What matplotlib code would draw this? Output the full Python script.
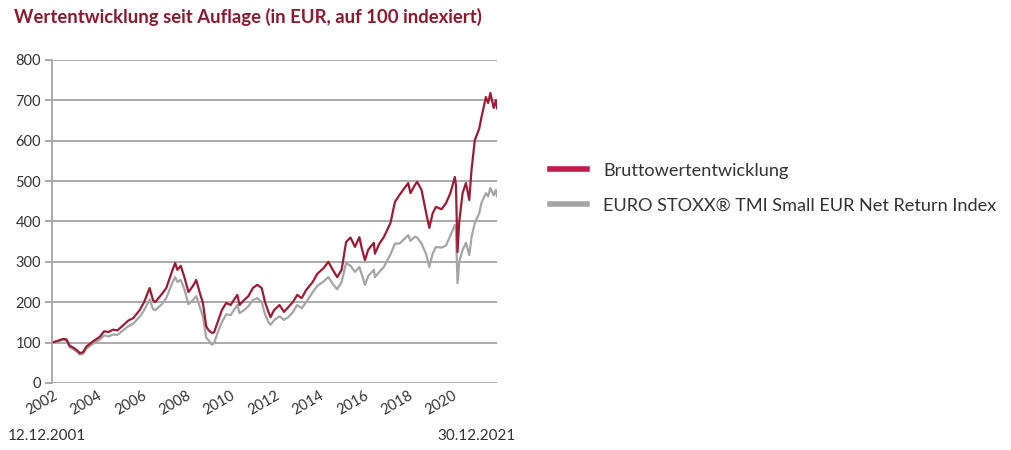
import numpy as np
import matplotlib.pyplot as plt
from matplotlib.lines import Line2D

# values (year as decimal, indexed to 100)
years = [2001.95, 2002.2, 2002.45, 2002.6, 2002.75, 2002.9, 2003.1, 2003.2, 2003.35, 2003.5,
         2003.8, 2004.1, 2004.3, 2004.5, 2004.7, 2004.9, 2005.2, 2005.4, 2005.6, 2005.9,
         2006.1, 2006.35, 2006.5, 2006.6, 2006.9, 2007.1, 2007.35, 2007.5, 2007.6, 2007.75,
         2007.9, 2008.1, 2008.3, 2008.45, 2008.6, 2008.75, 2008.9, 2009.0, 2009.15, 2009.25,
         2009.45, 2009.6, 2009.8, 2010.0, 2010.2, 2010.3, 2010.4, 2010.6, 2010.8, 2011.0,
         2011.2, 2011.4, 2011.55, 2011.7, 2011.8, 2011.95, 2012.2, 2012.4, 2012.6, 2012.8,
         2013.0, 2013.2, 2013.4, 2013.7, 2013.9, 2014.2, 2014.4, 2014.6, 2014.8, 2015.0,
         2015.2, 2015.4, 2015.6, 2015.8, 2015.9, 2016.05, 2016.2, 2016.45, 2016.5, 2016.7,
         2016.9, 2017.2, 2017.4, 2017.6, 2017.8, 2018.0, 2018.1, 2018.3, 2018.4, 2018.6,
         2018.8, 2018.95, 2019.1, 2019.25, 2019.5, 2019.7, 2019.9, 2020.1, 2020.15, 2020.22,
         2020.3, 2020.45, 2020.6, 2020.75, 2020.85, 2021.0, 2021.2, 2021.3, 2021.5, 2021.6,
         2021.7, 2021.85, 2021.95, 2022.0]

fund = [100, 104, 109, 108, 92, 88, 80, 74, 76, 90,
        103, 114, 128, 126, 132, 130, 145, 155, 160, 180,
        200, 235, 205, 200, 220, 235, 275, 297, 280, 290,
        265, 225, 240, 255, 225, 198, 140, 131, 124, 125,
        156, 180, 198, 193, 210, 218, 193, 205, 215, 235,
        243, 235, 200, 176, 163, 180, 193, 176, 188, 200,
        218, 210, 230, 250, 270, 285, 300, 280, 262, 280,
        349, 360, 337, 361, 335, 304, 330, 347, 320, 345,
        361, 396, 448, 465, 480, 495, 470, 490, 498, 478,
        423, 384, 420, 436, 430, 445, 470, 510, 490, 324,
        400, 470, 495, 453, 527, 601, 630, 658, 708, 693,
        718, 681, 700, 680]

index = [100, 103, 107, 104, 88, 84, 76, 70, 72, 85,
         97, 107, 118, 115, 120, 119, 132, 141, 146, 164,
         180, 207, 183, 180, 195, 210, 245, 262, 250, 255,
         235, 195, 205, 215, 190, 165, 112, 106, 95, 98,
         130, 150, 170, 168, 185, 193, 173, 180, 190, 205,
         210, 200, 170, 151, 144, 155, 165, 156, 163, 175,
         193, 185, 200, 225, 240, 252, 262, 245, 232, 250,
         297, 290, 275, 287, 270, 243, 265, 280, 262, 275,
         287, 318, 345, 345, 355, 366, 352, 362, 360, 345,
         320, 287, 320, 337, 335, 340, 365, 391, 380, 247,
         300, 329, 347, 317, 360, 396, 420, 446, 470, 462,
         483, 465, 478, 462]

labels = ["Bruttowertentwicklung", "EURO STOXX\u00ae TMI Small EUR Net Return Index"]
tick_years = list(range(2002, 2021, 2))

red = "#9e1b34"
grey = "#a5a5a5"
text_col = "#333333"

plt.rcParams['font.family'] = ['Lato', 'DejaVu Sans']

fig = plt.figure(figsize=(10.11, 4.5), dpi=100)
ax = fig.add_axes([0.0514, 0.149, 0.4402, 0.718])

ax.plot(years, index, color=grey, lw=1.6)
ax.plot(years, fund, color=red, lw=1.6)

ax.set_xlim(2001.95, 2022.0)
ax.set_ylim(0, 800)
ax.set_yticks(range(0, 801, 100))
ax.set_xticks(tick_years)
ax.set_xticklabels([str(y) for y in tick_years], rotation=30, ha='right',
                   rotation_mode='anchor', fontsize=10.5, color=text_col)
ax.tick_params(axis='x', length=0, pad=4)
ax.tick_params(axis='y', length=5, color=grey, width=1.3, labelsize=10.5,
               labelcolor=text_col, pad=3)
ax.yaxis.grid(True, color=grey, lw=1.3)
ax.set_axisbelow(True)
for s in ['top', 'right', 'bottom']:
    ax.spines[s].set_visible(False)
ax.spines['left'].set_color(grey)
ax.spines['left'].set_linewidth(1.3)

fig.text(0.014, 0.962, "Wertentwicklung seit Auflage (in EUR, auf 100 indexiert)",
         color="#8c1a2e", fontsize=13.3, fontweight='bold', va='center')

handles = [Line2D([], [], color="#c21a48", lw=4), Line2D([], [], color=grey, lw=4)]
fig.legend(handles, labels, loc='upper left', bbox_to_anchor=(0.528, 0.675),
           frameon=False, fontsize=13.1, handlelength=2.05, handletextpad=0.85,
           labelspacing=1.05, labelcolor=text_col)

fig.text(0.008, 0.022, "12.12.2001", fontsize=11, color=text_col)
fig.text(0.510, 0.022, "30.12.2021", fontsize=11, color=text_col, ha='right')

fig.savefig("out.png", dpi=100)
